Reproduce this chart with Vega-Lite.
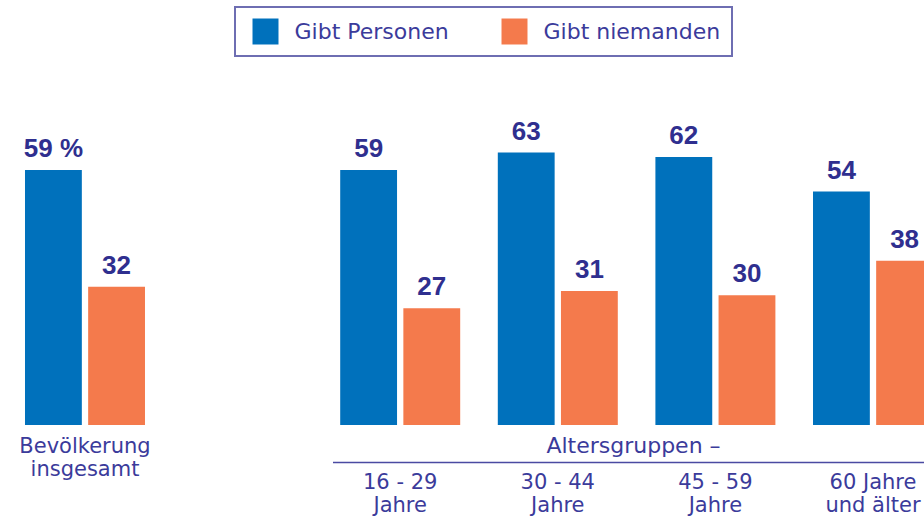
{
  "$schema": "https://vega.github.io/schema/vega-lite/v6.json",
  "width": 924,
  "height": 425,
  "autosize": {"type": "none"},
  "padding": {"left": 0, "top": 0, "right": 0, "bottom": 92},
  "background": "white",
  "config": {"view": {"stroke": null}},
  "data": {
    "values": [
      {"group": "Bevölkerung insgesamt", "series": "Gibt Personen", "value": 59, "label": "59 %"},
      {"group": "Bevölkerung insgesamt", "series": "Gibt niemanden", "value": 32, "label": "32"},
      {"group": "16 - 29 Jahre", "series": "Gibt Personen", "value": 59, "label": "59"},
      {"group": "16 - 29 Jahre", "series": "Gibt niemanden", "value": 27, "label": "27"},
      {"group": "30 - 44 Jahre", "series": "Gibt Personen", "value": 63, "label": "63"},
      {"group": "30 - 44 Jahre", "series": "Gibt niemanden", "value": 31, "label": "31"},
      {"group": "45 - 59 Jahre", "series": "Gibt Personen", "value": 62, "label": "62"},
      {"group": "45 - 59 Jahre", "series": "Gibt niemanden", "value": 30, "label": "30"},
      {"group": "60 Jahre und älter", "series": "Gibt Personen", "value": 54, "label": "54"},
      {"group": "60 Jahre und älter", "series": "Gibt niemanden", "value": 38, "label": "38"}
    ]
  },
  "encoding": {
    "x": {
      "field": "group",
      "type": "nominal",
      "title": "Altersgruppen –",
      "scale": {
        "domain": ["Bevölkerung insgesamt", "_", "16 - 29 Jahre", "30 - 44 Jahre", "45 - 59 Jahre", "60 Jahre und älter"],
        "range": [0, 958],
        "paddingInner": 0.2386,
        "paddingOuter": 0.1586
      },
      "axis": {
        "domain": false,
        "ticks": false,
        "grid": false,
        "labelAngle": 0,
        "labelFont": "DejaVu Sans",
        "labelFontSize": 21,
        "labelColor": "#3b3b9b",
        "labelLineHeight": 23,
        "labelBaseline": "alphabetic",
        "labelPadding": {"condition": {"test": "datum.value === 'Bevölkerung insgesamt'", "value": 27}, "value": 63},
        "labelLimit": 400,
        "labelOverlap": false,
        "labelBound": false,
        "labelExpr": "datum.value === 'Bevölkerung insgesamt' ? ['Bevölkerung', 'insgesamt'] : datum.value === '16 - 29 Jahre' ? ['16 - 29', 'Jahre'] : datum.value === '30 - 44 Jahre' ? ['30 - 44', 'Jahre'] : datum.value === '45 - 59 Jahre' ? ['45 - 59', 'Jahre'] : datum.value === '60 Jahre und älter' ? ['60 Jahre', 'und älter'] : ''",
        "titleX": 633,
        "titleY": 27,
        "titleBaseline": "alphabetic",
        "titleAlign": "center",
        "titleFont": "DejaVu Sans",
        "titleFontSize": 22,
        "titleFontWeight": "normal",
        "titleColor": "#3b3b9b"
      }
    }
  },
  "layer": [
    {
      "mark": {"type": "bar"},
      "encoding": {
        "xOffset": {"field": "series", "type": "nominal", "scale": {"domain": ["Gibt Personen", "Gibt niemanden"], "paddingInner": 0.1, "paddingOuter": 0}},
        "y": {"field": "value", "type": "quantitative", "scale": {"domain": [0, 98.3], "nice": false, "zero": true}, "axis": null},
        "color": {
          "field": "series",
          "type": "nominal",
          "scale": {"domain": ["Gibt Personen", "Gibt niemanden"], "range": ["#0071bc", "#f47a4c"]},
          "legend": {
            "orient": "none",
            "legendX": 235,
            "legendY": 7,
            "direction": "horizontal",
            "title": null,
            "symbolType": "square",
            "symbolSize": 676,
            "symbolStrokeWidth": 0,
            "symbolOpacity": 1,
            "symbolOffset": 6,
            "labelOffset": 16,
            "labelFont": "DejaVu Sans",
            "labelFontSize": 22,
            "labelColor": "#3b3b9b",
            "labelLimit": 400,
            "columnPadding": 46,
            "padding": 11.5,
            "fillColor": "white",
            "strokeColor": "#6e6eb2",
            "encode": {"legend": {"update": {"strokeWidth": {"value": 2}}}}
          }
        }
      }
    },
    {
      "mark": {"type": "text", "font": "Liberation Sans", "fontWeight": "bold", "fontSize": 26, "color": "#2f2f8f", "baseline": "alphabetic", "dy": -13},
      "encoding": {
        "xOffset": {"field": "series", "type": "nominal", "scale": {"domain": ["Gibt Personen", "Gibt niemanden"], "paddingInner": 0.1, "paddingOuter": 0}},
        "y": {"field": "value", "type": "quantitative", "axis": null},
        "text": {"field": "label", "type": "nominal"}
      }
    },
    {
      "data": {"values": [{}]},
      "mark": {"type": "rule", "color": "#4a4aa2", "strokeWidth": 1.5},
      "encoding": {
        "x": {"datum": "16 - 29 Jahre", "type": "nominal", "bandPosition": -0.06, "title": "Altersgruppen –"},
        "x2": {"datum": "60 Jahre und älter", "bandPosition": 1},
        "y": {"datum": -8.7, "type": "quantitative", "axis": null}
      }
    }
  ]
}
